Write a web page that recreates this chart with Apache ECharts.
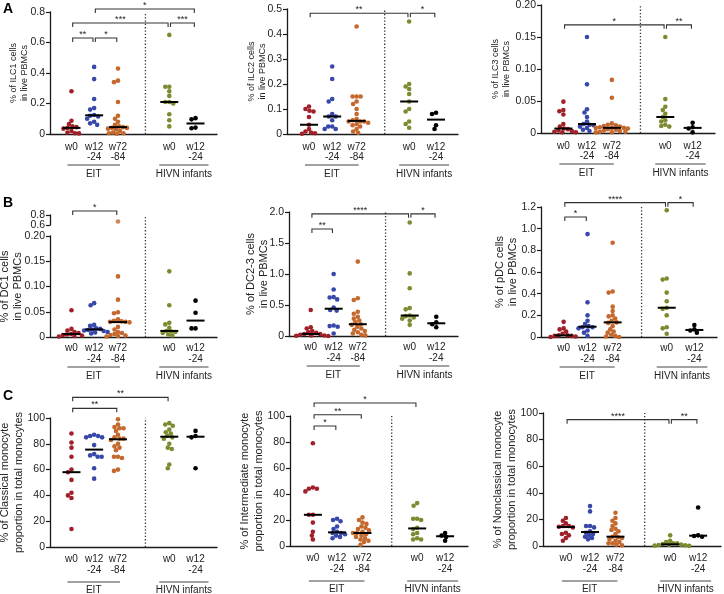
<!DOCTYPE html>
<html><head><meta charset="utf-8">
<script src="https://cdn.jsdelivr.net/npm/echarts@6/dist/echarts.min.js"></script>
<style>html,body{margin:0;padding:0;background:#fff}#c{width:724px;height:594px}</style>
</head><body><div id="c"></div>
<script>
const FONT = '"Liberation Sans", Arial, sans-serif';
const tickTop = ['w0','w12','w72','w0','w12'];
const tickBottom = ['','-24','-84','','-24'];
const cohortNames = ['EIT','HIVN infants'];
const cohortSpans = [[0,2],[3,4]];
const groupColors = ['#a01f28','#3848aa','#c4682d','#7e8a30','#000000'];

const ilc1 = [
 [0.28,0.087,0.065,0.05,0.045,0.04,0.035,0.02,0.01,0.005,0.004],
 [0.44,0.36,0.23,0.17,0.16,0.125,0.12,0.115,0.10,0.08,0.07,0.06],
 [0.43,0.35,0.34,0.21,0.12,0.10,0.08,0.06,0.05,0.045,0.04,0.04,0.035,0.03,0.02,0.01,0.005,0.005,0.002],
 [0.65,0.31,0.31,0.28,0.25,0.21,0.21,0.20,0.13,0.09,0.05],
 [0.104,0.096,0.042,0.038]
];
const ilc1Sig = [[0,1,0.63,'**'],[1,2,0.63,'*'],[0,3,0.728,'***'],[3,4,0.728,'***'],[1,4,0.82,'*']];

const ilc2 = [
 [0.11,0.10,0.093,0.09,0.068,0.037,0.02,0.01,0.006,0.003,0.001],
 [0.27,0.22,0.14,0.13,0.08,0.07,0.07,0.055,0.03,0.03,0.02,0.02],
 [0.43,0.15,0.15,0.15,0.13,0.12,0.10,0.08,0.06,0.055,0.05,0.05,0.05,0.045,0.04,0.035,0.03,0.02,0.01,0.005],
 [0.45,0.20,0.19,0.18,0.16,0.13,0.10,0.09,0.05,0.04,0.025],
 [0.085,0.08,0.035,0.02]
];
const ilc2Sig = [[0,3,0.483,'**'],[3,4,0.483,'*']];

const ilc3 = [
 [0.049,0.036,0.034,0.029,0.014,0.01,0.007,0.006,0.004,0.003,0.002,0.001,0.001],
 [0.15,0.076,0.037,0.032,0.025,0.018,0.014,0.013,0.012,0.010,0.008,0.005,0.003],
 [0.083,0.055,0.015,0.013,0.012,0.011,0.010,0.009,0.008,0.008,0.008,0.007,0.006,0.005,0.004,0.003,0.002,0.002,0.001,0.001],
 [0.15,0.053,0.041,0.036,0.030,0.025,0.020,0.018,0.013,0.011,0.010],
 [0.016,0.009,0.007,0.001]
];
const ilc3Sig = [[0,3,0.169,'*'],[3,4,0.169,'**']];

const dc1 = [
 [0.053,0.016,0.013,0.010,0.008,0.006,0.005,0.004,0.003,0.002,0.001],
 [0.067,0.063,0.024,0.022,0.017,0.016,0.015,0.014,0.013,0.012,0.010,0.009,0.007],
 [0.67,0.12,0.074,0.049,0.047,0.035,0.032,0.031,0.030,0.030,0.029,0.020,0.015,0.010,0.008,0.006,0.004,0.003,0.002,0.001],
 [0.13,0.063,0.028,0.025,0.018,0.012,0.011,0.010,0.008,0.005,0.003],
 [0.072,0.048,0.017,0.017]
];
const dc1Sig = [[0,2,0.88,'*']];

const dc23 = [
 [0.42,0.14,0.12,0.08,0.06,0.05,0.032,0.03,0.02,0.01,0.008,0.005,0.0],
 [1.0,0.75,0.63,0.62,0.59,0.46,0.42,0.41,0.17,0.16,0.15,0.04],
 [1.2,0.61,0.58,0.39,0.36,0.31,0.28,0.25,0.22,0.19,0.18,0.15,0.12,0.10,0.08,0.06,0.04,0.02,0.01],
 [1.83,1.01,0.77,0.45,0.43,0.33,0.32,0.30,0.28,0.25,0.18],
 [0.31,0.22,0.19,0.14]
];
const dc23Sig = [[0,1,1.725,'**'],[0,3,1.97,'****'],[3,4,1.97,'*']];

const pdc = [
 [0.14,0.08,0.07,0.05,0.03,0.015,0.015,0.01,0.01,0.005,0.0],
 [0.95,0.32,0.20,0.15,0.12,0.10,0.09,0.09,0.08,0.06,0.04,0.01],
 [0.87,0.42,0.41,0.28,0.24,0.20,0.19,0.17,0.15,0.135,0.13,0.10,0.07,0.05,0.04,0.02,0.01,0.005,0.0],
 [1.17,0.54,0.53,0.41,0.33,0.27,0.26,0.20,0.09,0.08,0.03],
 [0.11,0.07,0.06,0.04]
];
const pdcSig = [[0,1,1.108,'*'],[0,3,1.24,'****'],[3,4,1.24,'*']];

const classical = [
 [88,81,77,70,60,58,52,42,40,38,14],
 [87,86,86,85,85,79,72,71,70,70,61,53],
 [99,95,93,92,92,90,87,85,84,84,83,80,78,77,75,70,70,69,60,59],
 [96,95,94,91,89,88,86,85,84,80,77,76,64,61],
 [90,86,85,61]
];
const classicalSig = [[0,2,107.5,'**'],[0,3,116,'**']];

const intermediate = [
 [79,45,44,44,42,24,24,18,11,8,5],
 [21,20,19,15,13,11,10,10,9,8,7,6],
 [22,20,18,17,15,14,13,12,11,10,10,9,8,7,6,5,4,3,1],
 [33,31,21,21,20,14,13,10,9,6,5,5],
 [10,8,7,4]
];
const intermediateSig = [[0,1,92.3,'*'],[0,2,101,'**'],[0,3,110,'*']];

const nonclassical = [
 [21,19,17,15,15,14.5,14,10,9,8,6,4],
 [30,26,15,15,14,11,10,9,8,7,6,5],
 [25,21,19,17,15,13,12,11,9,7,6.5,6,5,4,3,2,2,1,0.5],
 [8,4,3,2,2,1.5,1,1,0.8,0.5,0.3,0.1],
 [29,8,7.5,7]
];
const nonclassicalSig = [[0,3,95,'****'],[3,4,95,'**']];

// ---------- layout (not data) ----------
const xPos = [0.9, 1.85, 2.85, 5.0, 6.1];
const dividerX = 4.0;
const X_MAX = 7;
const rowOffA = {l1:13, l2:23, line:31, txt:40};
const rowOffB = {l1:11, l2:22, line:30, txt:39};
const rowOffC = {l1:12, l2:23, line:35, txt:43};
const nameA = {fs:9, lh:11}, nameB = {fs:11, lh:13}, nameC = {fs:11, lh:14};

const panels = [
 {data:ilc1, sig:ilc1Sig, name:'% of ILC1 cells\nin live PBMCs', L:{left:50,right:217,top:12,bottom:134,max:0.8,interval:0.2,dec:1,gap:19.5,nf:nameA,off:rowOffA}},
 {data:ilc2, sig:ilc2Sig, name:'% of ILC2 cells\nin live PBMCs', L:{left:287,right:458,top:9,bottom:134,max:0.5,interval:0.1,dec:1,gap:19,nf:nameA,off:rowOffA}},
 {data:ilc3, sig:ilc3Sig, name:'% of ILC3 cells\nin live PBMCs', L:{left:541,right:715,top:5,bottom:133,max:0.2,interval:0.05,dec:2,gap:29,nf:nameA,off:rowOffA}},
 {data:dc1, sig:dc1Sig, name:'% of DC1 cells\nin live PBMCs', L:{left:50,right:217,top:236,bottom:337,max:0.2,interval:0.05,dec:2,gap:25.5,nf:nameB,off:rowOffB,dividerTop:0.2416,
    upper:{top:215,bottom:225,min:0.6,max:0.8,interval:0.2,dec:1}}},
 {data:dc23, sig:dc23Sig, name:'% of DC2-3 cells\nin live PBMCs', L:{left:289,right:458,top:212,bottom:336,max:2,interval:0.5,dec:1,gap:18.5,nf:nameB,off:rowOffB}},
 {data:pdc, sig:pdcSig, name:'% of pDC cells\nin live PBMCs', L:{left:541,right:717,top:207,bottom:337,max:1.2,interval:0.2,dec:1,gap:21.5,nf:nameB,off:rowOffB}},
 {data:classical, sig:classicalSig, name:'% of Classical monocyte\nproportion in total monocytes', L:{left:50,right:217,top:418,bottom:547,max:100,interval:20,dec:0,gap:24,nf:nameC,off:rowOffC}},
 {data:intermediate, sig:intermediateSig, name:'% of Intermediate monocyte\nproportion in total monocytes', L:{left:290,right:468,top:416,bottom:546,max:100,interval:20,dec:0,gap:24,nf:nameC,off:rowOffC}},
 {data:nonclassical, sig:nonclassicalSig, name:'% of Nonclassical monocyte\nproportion in total monocytes', L:{left:543,right:721,top:413,bottom:546,max:100,interval:20,dec:0,gap:24,nf:nameC,off:rowOffC}}
];

const DOT = 4.6, SPACING = 4.0;

function median(arr){
  const s = arr.slice().sort((a,b)=>a-b); const n = s.length;
  return n%2 ? s[(n-1)/2] : (s[n/2-1]+s[n/2])/2;
}
// beeswarm: horizontal pixel offsets so dots do not overlap much
function swarm(values, pxPerY){
  const order = values.map((v,i)=>i).sort((a,b)=>values[b]-values[a]);
  const placed = []; const off = new Array(values.length).fill(0);
  for (const i of order){
    const y = values[i]*pxPerY;
    for (let k=0;k<100;k++){
      const c = (k%2===1?-1:1)*Math.ceil(k/2)*0.5;
      if (placed.every(p => (p.x-c)*(p.x-c)+(p.y-y)*(p.y-y) >= SPACING*SPACING)){
        off[i]=c; placed.push({x:c,y}); break;
      }
    }
  }
  return off;
}
function fmt(dec){ return v => Math.abs(v) < 1e-9 ? '0' : v.toFixed(dec); }

const grids=[], xAxes=[], yAxes=[], series=[];
const axisCol = '#1a1a1a';
const labelBase = {fontSize:10.5, color:'#222', margin:5, fontFamily:FONT, showMinLabel:true, showMaxLabel:true, hideOverlap:false};

function addGrid(left,right,top,bottom){
  grids.push({left, top, width:right-left, height:bottom-top, containLabel:false, outerBoundsMode:'none'});
  return grids.length-1;
}

panels.forEach((P)=>{
  const L = P.L;
  const gi = addGrid(L.left, L.right, L.top, L.bottom);
  xAxes.push({gridIndex:gi, type:'value', min:0, max:X_MAX, axisLine:{show:true, onZero:false, lineStyle:{color:axisCol,width:1.3}},
    axisTick:{show:false}, axisLabel:{show:false}, splitLine:{show:false}});
  yAxes.push({gridIndex:gi, type:'value', min:0, max:L.max, interval:L.interval,
    name:P.name, nameLocation:'middle', nameRotate:90, nameGap:L.gap, nameMoveOverlap:false,
    nameTextStyle:{fontSize:L.nf.fs, color:'#222', lineHeight:L.nf.lh, fontFamily:FONT},
    axisLine:{show:true, lineStyle:{color:axisCol,width:1.3}}, axisTick:{show:true,length:4,lineStyle:{color:axisCol,width:1.2}},
    axisLabel:Object.assign({formatter:fmt(L.dec)}, labelBase), splitLine:{show:false}});
  const ax = xAxes.length-1;
  const ay = yAxes.length-1;
  let upX = null, upY = null;
  if (L.upper){
    const U = L.upper;
    const mid = (U.min+U.max)/2;
    const gu = addGrid(L.left, L.right, U.top, U.bottom);
    xAxes.push({gridIndex:gu, type:'value', min:0, max:X_MAX, show:false, splitLine:{show:false}});
    upX = xAxes.length-1;
    // lower label of the upper segment
    yAxes.push({gridIndex:gu, type:'value', min:U.min, max:U.max, interval:U.interval, position:'left', offset:0,
      axisLine:{show:true, lineStyle:{color:axisCol,width:1.3}}, axisTick:{show:true,length:4,lineStyle:{color:axisCol,width:1.2}},
      axisLabel:Object.assign({}, labelBase, {formatter: v => v < mid ? v.toFixed(U.dec) : ''}), splitLine:{show:false}});
    upY = yAxes.length-1;
    // upper label of the upper segment
    yAxes.push({gridIndex:gu, type:'value', min:U.min, max:U.max, interval:U.interval, position:'left', offset:0,
      axisLine:{show:false}, axisTick:{show:false},
      axisLabel:Object.assign({}, labelBase, {margin:5, formatter: v => v > mid ? v.toFixed(U.dec) : ''}), splitLine:{show:false}});
  }
  const pxPerY = (L.bottom-L.top)/L.max;
  const pxPerX = (L.right-L.left)/X_MAX;

  P.data.forEach((vals, g)=>{
    const low = L.upper ? vals.filter(v=>v<=L.max) : vals;
    const high = L.upper ? vals.filter(v=>v>L.max) : [];
    const off = swarm(low, pxPerY);
    series.push({type:'scatter', xAxisIndex:ax, yAxisIndex:ay, symbolSize:DOT, silent:true,
      itemStyle:{color:groupColors[g], opacity:1},
      data: low.map((v,i)=>[xPos[g]+off[i]/pxPerX, v]), z:3});
    if (high.length){
      series.push({type:'scatter', xAxisIndex:upX, yAxisIndex:upY, symbolSize:DOT, silent:true,
        itemStyle:{color:groupColors[g]}, data: high.map(v=>[xPos[g], v]), z:3});
    }
  });

  // medians
  series.push({type:'custom', xAxisIndex:ax, yAxisIndex:ay, silent:true, clip:false, z:5,
    data: P.data.map((vals,g)=>[xPos[g], median(vals)]),
    renderItem:(params, api)=>{
      const p = api.coord([api.value(0), api.value(1)]);
      return {type:'line', shape:{x1:p[0]-9, y1:p[1], x2:p[0]+9, y2:p[1]}, style:{stroke:'#000', lineWidth:2}};
    }});

  // category labels
  series.push({type:'custom', xAxisIndex:ax, yAxisIndex:ay, silent:true, clip:false, z:5,
    data: xPos.map(x=>[x, 0]),
    renderItem:(params, api)=>{
      const p = api.coord([api.value(0), 0]); const g = params.dataIndex;
      const ch = [{type:'text', style:{text:tickTop[g], x:p[0], y:p[1]+L.off.l1, align:'center', verticalAlign:'middle', fontSize:10, fontFamily:FONT, fill:'#222'}}];
      if (tickBottom[g]) ch.push({type:'text', style:{text:tickBottom[g], x:p[0], y:p[1]+L.off.l2, align:'center', verticalAlign:'middle', fontSize:10, fontFamily:FONT, fill:'#222'}});
      return {type:'group', children:ch};
    }});

  // cohort lines + labels
  series.push({type:'custom', xAxisIndex:ax, yAxisIndex:ay, silent:true, clip:false, z:5,
    data: cohortSpans.map(s=>[xPos[s[0]], xPos[s[1]]]),
    renderItem:(params, api)=>{
      const i = params.dataIndex;
      const a = api.coord([api.value(0), 0]), b = api.coord([api.value(1), 0]);
      const x1 = a[0] - (i===0?4:10), x2 = b[0] + (i===0?2:13);
      const y = a[1] + L.off.line;
      return {type:'group', children:[
        {type:'line', shape:{x1, y1:y, x2, y2:y}, style:{stroke:'#444', lineWidth:1}},
        {type:'text', style:{text:cohortNames[i], x:(x1+x2)/2, y:a[1]+L.off.txt, align:'center', verticalAlign:'middle', fontSize:10, fontFamily:FONT, fill:'#222'}}
      ]};
    }});

  // dotted divider
  const topVal = L.dividerTop || L.max;
  series.push({type:'custom', xAxisIndex:ax, yAxisIndex:ay, silent:true, clip:false, z:2,
    data: [[dividerX, 0, topVal]],
    renderItem:(params, api)=>{
      const a = api.coord([api.value(0), 0]), b = api.coord([api.value(0), api.value(2)]);
      return {type:'line', shape:{x1:a[0], y1:a[1], x2:b[0], y2:b[1]}, style:{stroke:'#333', lineWidth:1.3, lineDash:[1.3,2]}};
    }});

  // significance brackets
  const bX = upX !== null ? upX : ax, bY = upY !== null ? upY : ay;
  const sig = P.sig;
  series.push({type:'custom', xAxisIndex:bX, yAxisIndex:bY, silent:true, clip:false, z:5,
    data: sig.map(s=>[xPos[s[0]], xPos[s[1]], s[2]]),
    renderItem:(params, api)=>{
      const s = sig[params.dataIndex];
      const a = api.coord([api.value(0), api.value(2)]), b = api.coord([api.value(1), api.value(2)]);
      const x1 = a[0]+1.2, x2 = b[0]-1.2, y = a[1], tip = 4;
      return {type:'group', children:[
        {type:'polyline', shape:{points:[[x1,y+tip],[x1,y],[x2,y],[x2,y+tip]]}, style:{stroke:'#333', lineWidth:1.1, fill:null}},
        {type:'text', style:{text:s[3], x:(x1+x2)/2, y:y+1, align:'center', verticalAlign:'bottom', fontSize:9, fontFamily:FONT, fill:'#222'}}
      ]};
    }});
});

const chart = echarts.init(document.getElementById('c'), null, {renderer:'canvas'});
chart.setOption({
  animation:false,
  backgroundColor:'#fff',
  grid:grids, xAxis:xAxes, yAxis:yAxes, series,
  graphic:[
    {type:'text', left:3, top:2, style:{text:'A', fontSize:14, fontWeight:'bold', fontFamily:FONT, fill:'#000'}},
    {type:'text', left:3, top:196, style:{text:'B', fontSize:14, fontWeight:'bold', fontFamily:FONT, fill:'#000'}},
    {type:'text', left:3, top:389, style:{text:'C', fontSize:14, fontWeight:'bold', fontFamily:FONT, fill:'#000'}}
  ]
});
</script></body></html>
